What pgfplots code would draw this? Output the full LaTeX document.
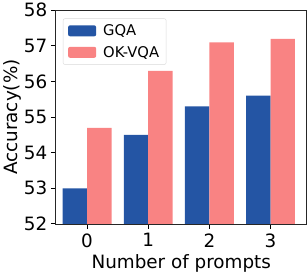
\documentclass[border=0pt]{standalone}
\usepackage{pgfplots}
\pgfplotsset{compat=1.18}
\usepackage{fontspec}
\setmainfont{DejaVu Sans}
\definecolor{gqa}{HTML}{2455A4}
\definecolor{okv}{HTML}{F98383}
\begin{document}
\begin{tikzpicture}
\begin{axis}[
  scale only axis,
  width=250pt, height=213pt,
  xmin=-0.51, xmax=3.59,
  ymin=52, ymax=58,
  xtick={0,1,2,3},
  ytick={52,53,54,55,56,57,58},
  /pgf/number format/assume math mode=true,
  tick label style={font=\fontsize{18.3}{20}\selectfont},
  label style={font=\fontsize{18.3}{20}\selectfont},
  xlabel={Number of prompts},
  ylabel={Accuracy(\%)},
  tick align=outside,
  tick pos=left,
  major tick length=5pt,
  every tick/.style={black, line width=1pt},
  axis line style={black!85, line width=0.8pt},
  xticklabel style={yshift=-1pt},
  xlabel style={yshift=0pt},
  ylabel style={yshift=-4pt},
  legend style={at={(0.028,0.962)}, anchor=north west, draw=black!15, rounded corners=2pt,
    font=\fontsize{14.7}{16}\selectfont, inner xsep=5pt, inner ysep=4pt, row sep=5pt,
    /tikz/every odd column/.append style={column sep=5pt}},
  legend cell align=left,
  legend image code/.code={\fill[#1] (0pt,-5.5pt) rectangle (28pt,5.5pt);},
]
\addplot[ybar, bar width=0.4, bar shift=-0.2, fill=gqa, draw=none] coordinates {(0,53.0) (1,54.5) (2,55.3) (3,55.6)};
\addlegendentry{GQA}
\addplot[ybar, bar width=0.4, bar shift=0.2, fill=okv, draw=none] coordinates {(0,54.7) (1,56.3) (2,57.1) (3,57.2)};
\addlegendentry{OK-VQA}
\end{axis}
\end{tikzpicture}
\end{document}
